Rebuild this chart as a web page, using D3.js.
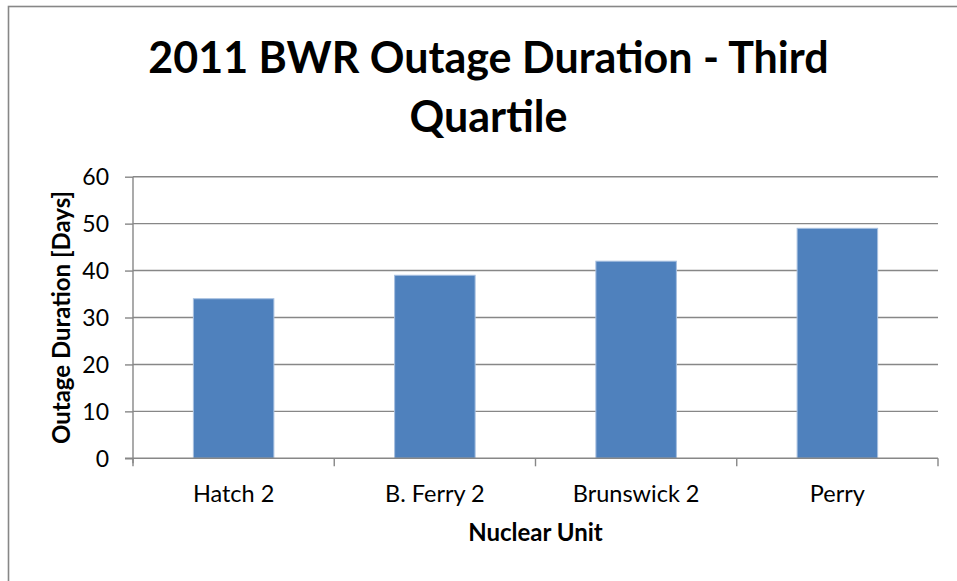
<!DOCTYPE html>
<html>
<head>
<meta charset="utf-8">
<script src="https://cdn.jsdelivr.net/npm/d3@7"></script>
<style>
  body { margin: 0; background: #fff; }
  text { font-family: Lato, "Open Sans", sans-serif; fill: #000; }
</style>
</head>
<body>
<div id="chart"></div>
<script>
// 2011 BWR outage duration, third quartile
var units = ["Hatch 2", "B. Ferry 2", "Brunswick 2", "Perry"];
var days = [34, 39, 42, 49];
var yTicks = [0, 10, 20, 30, 40, 50, 60];
var titleLines = ["2011 BWR Outage Duration - Third", "Quartile"];

const W = 957, H = 581;
const plot = { left: 133, right: 938, top: 176.7, bottom: 458.3 };

const svg = d3.select('#chart').append('svg')
  .attr('width', W)
  .attr('height', H);

// outer chart border (right / bottom run off the picture)
svg.append('rect')
  .attr('x', 8.5).attr('y', 6.5)
  .attr('width', W + 10).attr('height', H + 10)
  .style('fill', 'none')
  .style('stroke', '#878787')
  .style('stroke-width', 1.6);

const x = d3.scaleBand()
  .domain(units)
  .range([plot.left, plot.right])
  .paddingInner(0.6)
  .paddingOuter(0.3);

const y = d3.scaleLinear()
  .domain([0, 60])
  .range([plot.bottom, plot.top]);

// gridlines
svg.append('g').selectAll('line')
  .data(yTicks.filter(d => d > 0))
  .enter().append('line')
  .attr('x1', plot.left).attr('x2', plot.right)
  .attr('y1', d => y(d)).attr('y2', d => y(d))
  .style('stroke', '#878787')
  .style('stroke-width', 1.4);

// bars
svg.append('g').selectAll('rect')
  .data(units)
  .enter().append('rect')
  .attr('x', d => x(d))
  .attr('y', (d, i) => y(days[i]))
  .attr('width', x.bandwidth())
  .attr('height', (d, i) => plot.bottom - y(days[i]))
  .style('fill', '#4F81BD')
  .style('stroke', '#A7C0E0')
  .style('stroke-width', 1);

// Y axis
const yAxis = svg.append('g')
  .attr('transform', `translate(${plot.left},0)`)
  .call(d3.axisLeft(y).tickValues(yTicks).tickSize(8).tickPadding(16).tickFormat(d => d));
yAxis.select('.domain').attr('d', `M0,${plot.top}V${plot.bottom + 5}`);
yAxis.selectAll('line').style('stroke', '#878787').style('stroke-width', 1.4);
yAxis.select('.domain').style('stroke', '#878787').style('stroke-width', 1.4);
yAxis.selectAll('text')
  .style('font-family', 'Lato, sans-serif')
  .style('font-size', '23px')
  .attr('dy', '0.36em');

// X axis: line at zero with ticks at category boundaries
svg.append('line')
  .attr('x1', plot.left - 8).attr('x2', plot.right)
  .attr('y1', y(0)).attr('y2', y(0))
  .style('stroke', '#878787').style('stroke-width', 1.4);
const edges = units.map(d => x(d) + x.bandwidth() / 2 - x.step() / 2).concat([plot.right]);
svg.append('g').selectAll('line')
  .data(edges)
  .enter().append('line')
  .attr('x1', d => d).attr('x2', d => d)
  .attr('y1', y(0)).attr('y2', y(0) + 8)
  .style('stroke', '#878787').style('stroke-width', 1.4);

svg.append('g').selectAll('text')
  .data(units)
  .enter().append('text')
  .attr('x', d => x(d) + x.bandwidth() / 2)
  .attr('y', 502)
  .attr('text-anchor', 'middle')
  .style('font-size', '23.5px')
  .text(d => d);

// axis titles
svg.append('text')
  .attr('x', (plot.left + plot.right) / 2)
  .attr('y', 541)
  .attr('text-anchor', 'middle')
  .style('font-size', '24px')
  .style('font-weight', 'bold')
  .text('Nuclear Unit');

svg.append('text')
  .attr('transform', `translate(70,${(plot.top + plot.bottom) / 2}) rotate(-90)`)
  .attr('text-anchor', 'middle')
  .style('font-size', '24px')
  .style('font-weight', 'bold')
  .text('Outage Duration [Days]');

// title
svg.append('g').selectAll('text')
  .data(titleLines)
  .enter().append('text')
  .attr('x', 488.5)
  .attr('y', (d, i) => 73 + i * 59)
  .attr('text-anchor', 'middle')
  .style('font-size', '43px')
  .style('font-weight', 'bold')
  .text(d => d);
</script>
</body>
</html>
